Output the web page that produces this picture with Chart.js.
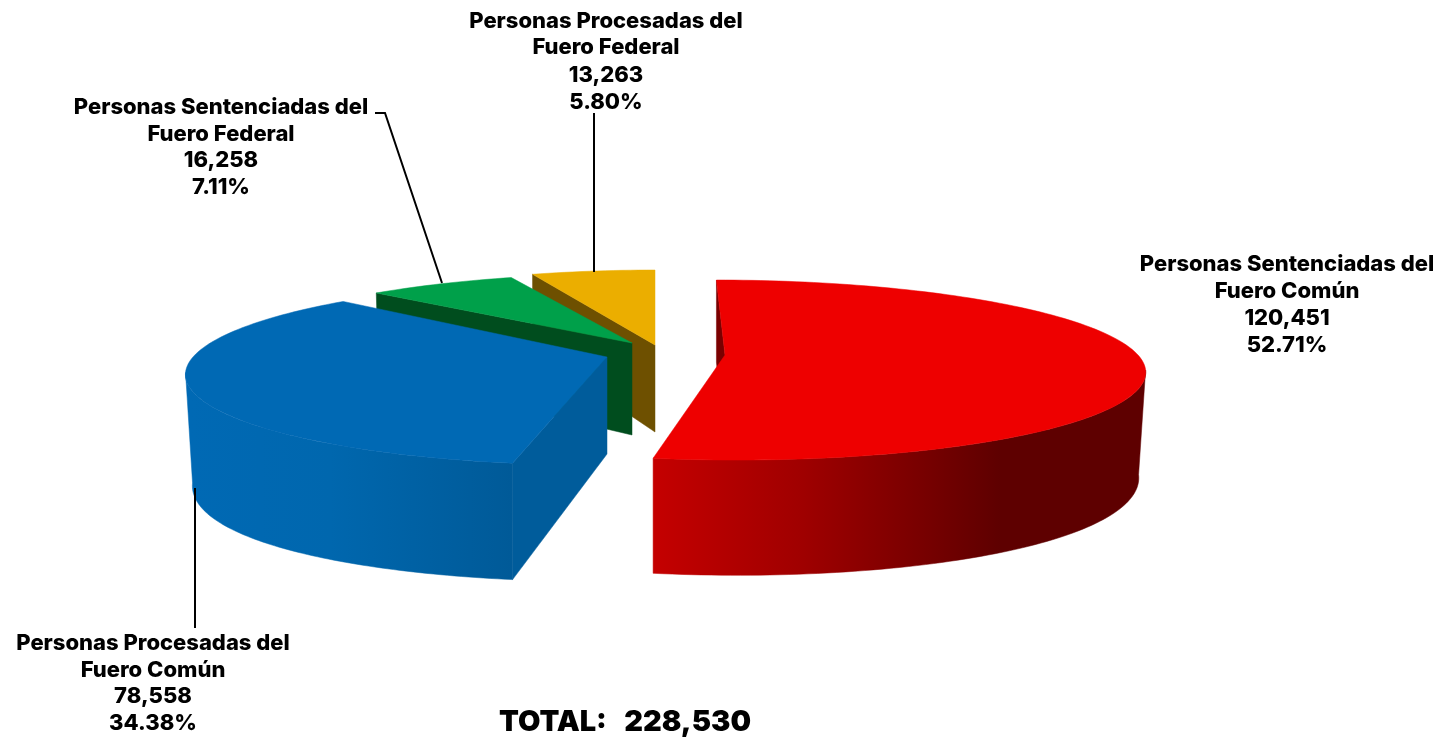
<!DOCTYPE html>
<html lang="es">
<head>
<meta charset="utf-8">
<title>Personas procesadas y sentenciadas</title>
<style>
html,body{margin:0;padding:0;background:#fff;}
canvas{display:block;filter:blur(0.4px);}
</style>
<script src="https://cdn.jsdelivr.net/npm/chart.js@4"></script>
</head>
<body>
<canvas id="c" width="1450" height="737"></canvas>
<script>
const categories = [
  'Personas Sentenciadas del Fuero Común',
  'Personas Procesadas del Fuero Común',
  'Personas Sentenciadas del Fuero Federal',
  'Personas Procesadas del Fuero Federal'
];
const values = [120451, 78558, 16258, 13263];
const percentLabels = ['52.71%', '34.38%', '7.11%', '5.80%'];
const valueLabels = ['120,451', '78,558', '16,258', '13,263'];
const labelLines = [
  ['Personas Sentenciadas del', 'Fuero Común'],
  ['Personas Procesadas del', 'Fuero Común'],
  ['Personas Sentenciadas del', 'Fuero Federal'],
  ['Personas Procesadas del', 'Fuero Federal']
];
const totalLabel = 'TOTAL:   228,530';
const topColors = ['#EE0000', '#0069B4', '#00A04A', '#EBAE00'];

// Perspective view of each exploded slice (style only, no data)
const K = 0.167;
const views = [
  {ax:725, ay:355, c1x:413, c2x:10,  c2y:87.5, depth:96, side:6,  cut:'#7A0000', wall:[[655,'#C40000'],[800,'#A00000'],[1000,'#5E0000'],[1145,'#5E0000']]},
  {ax:607, ay:357, c1x:414, c2x:-9,  c2y:90,   depth:97, side:11, cut:'#005C9B', wall:[[190,'#0069B4'],[330,'#0067AE'],[512,'#005A98']]},
  {ax:632, ay:343, c1x:394, c2x:-1,  c2y:81,   depth:92, side:0,  cut:'#004D1E', wall:null},
  {ax:655, ay:345, c1x:397, c2x:0,   c2y:87.5, depth:87, side:0,  cut:'#6E5000', wall:null}
];
const labelBoxes = [
  {x:1287, y:[264,291,318,345]},
  {x:153,  y:[643,670,696,723]},
  {x:221,  y:[107,134,160,187]},
  {x:606,  y:[21,47,75,102]}
];
const leaders = [
  [[195,488],[195,628]],
  [[375,113],[385,113],[442,283]],
  [[594,113],[594,272]]
];
const LABEL_FONT = '800 22px Inter, sans-serif';
const TOTAL_FONT = '900 29px Inter, sans-serif';

function rimTop(v, th) {
  const a = Math.sin(th), b = -Math.cos(th), d = 1 - K * b;
  return [v.ax + (a * v.c1x + b * v.c2x) / d, v.ay + b * v.c2y / d];
}
function drop(v, p, th) {
  const a = Math.sin(th), b = -Math.cos(th);
  return [p[0] + (665 - p[0]) * 0.015 * a * a, p[1] + v.depth / (1 - K * b) + v.side * a * a];
}
function poly(ctx, pts, fill) {
  ctx.beginPath();
  pts.forEach((p, i) => i ? ctx.lineTo(p[0], p[1]) : ctx.moveTo(p[0], p[1]));
  ctx.closePath();
  ctx.fillStyle = fill;
  ctx.fill();
  ctx.strokeStyle = fill;
  ctx.lineWidth = 0.5;
  ctx.stroke();
}

const pie3d = {
  id: 'pie3d',
  beforeDatasetsDraw(chart) {
    const ctx = chart.ctx;
    const arcs = chart.getDatasetMeta(0).data;
    const SIL = Math.acos(-K);
    ctx.save();
    for (let i = arcs.length - 1; i >= 0; i--) {
      const el = arcs[i];
      const v = views[i];
      const {startAngle, endAngle} = el.getProps(['startAngle', 'endAngle'], true);
      const t0 = startAngle + Math.PI / 2, t1 = endAngle + Math.PI / 2;
      const apex = [v.ax, v.ay];
      const apexLow = [v.ax, v.ay + v.depth];
      // cut face of the slice
      const r0 = rimTop(v, t0);
      poly(ctx, [r0, apex, apexLow, drop(v, r0, t0)], v.cut);
      // outer curved wall
      if (v.wall) {
        const a0 = Math.max(t0, SIL), a1 = Math.min(t1, 2 * Math.PI - SIL);
        if (a1 > a0) {
          const up = [], low = [];
          for (let s = 0; s <= 80; s++) {
            const th = a0 + (a1 - a0) * s / 80;
            const p = rimTop(v, th);
            up.push(p);
            low.unshift(drop(v, p, th));
          }
          const xs = v.wall.map(w => w[0]);
          const x0 = xs[0], x1 = xs[xs.length - 1];
          const g = ctx.createLinearGradient(x0, 0, x1, 0);
          v.wall.forEach(w => g.addColorStop((w[0] - x0) / (x1 - x0), w[1]));
          poly(ctx, up.concat(low), g);
        }
      }
      // top face
      const topPts = [apex];
      const n = Math.max(8, Math.round((t1 - t0) * 40));
      for (let s = 0; s <= n; s++) topPts.push(rimTop(v, t0 + (t1 - t0) * s / n));
      poly(ctx, topPts, el.options.backgroundColor);
    }
    ctx.restore();
    return false;
  },
  afterDraw(chart) {
    const ctx = chart.ctx;
    ctx.save();
    ctx.strokeStyle = '#000';
    ctx.lineWidth = 2;
    leaders.forEach(l => {
      ctx.beginPath();
      l.forEach((p, i) => i ? ctx.lineTo(p[0], p[1]) : ctx.moveTo(p[0], p[1]));
      ctx.stroke();
    });
    ctx.fillStyle = '#000';
    ctx.textAlign = 'center';
    ctx.textBaseline = 'middle';
    ctx.font = LABEL_FONT;
    labelBoxes.forEach((b, i) => {
      const lines = [labelLines[i][0], labelLines[i][1], valueLabels[i], percentLabels[i]];
      lines.forEach((t, j) => ctx.fillText(t, b.x, b.y[j]));
    });
    ctx.font = TOTAL_FONT;
    ctx.fillText(totalLabel, 625, 722);
    ctx.restore();
  }
};

new Chart(document.getElementById('c'), {
  type: 'pie',
  data: {
    labels: categories,
    datasets: [{data: values, backgroundColor: topColors, borderWidth: 0}]
  },
  options: {
    responsive: false,
    animation: false,
    plugins: {legend: {display: false}, tooltip: {enabled: false}, title: {display: false}}
  },
  plugins: [pie3d]
});
</script>
</body>
</html>
